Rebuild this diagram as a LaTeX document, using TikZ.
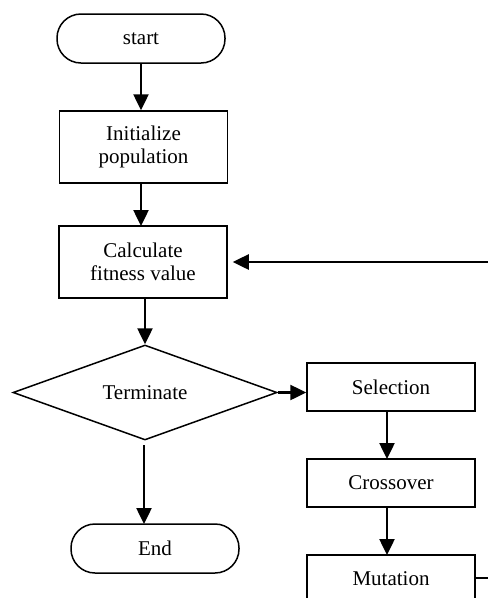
\documentclass[tikz,border=0pt]{standalone}
\usepackage{fontspec}
\setmainfont{Liberation Serif}
\usetikzlibrary{shapes.geometric,arrows.meta}
\begin{document}
\begin{tikzpicture}[x=1pt,y=-1pt,
  txt/.style={font=\fontsize{21}{23}\selectfont},
  box/.style={txt,draw,line width=1.5pt,minimum width=168pt,inner sep=0pt,align=center},
  pill/.style={box,rounded corners=24pt,minimum height=49pt},
  dec/.style={txt,draw,line width=1.5pt,shape=diamond,aspect=2.78,minimum width=264pt,minimum height=95pt,inner sep=0pt},
  arr/.style={line width=2.5pt,-{Triangle[width=15pt,length=16pt]}},
  ln/.style={line width=2.5pt}
]
\useasboundingbox (0,0) rectangle (488,598);
\clip (0,0) rectangle (488,598);

\node[pill] (start) at (141,38.5) {start};
\node[box,minimum height=72pt] (init) at (143.5,147) {Initialize\\population};
\node[box,minimum height=72pt] (calc) at (143,262) {Calculate\\fitness value};
\node[dec] (term) at (145,392.5) {Terminate};
\node[box,minimum height=48pt] (sel) at (391,387) {Selection};
\node[box,minimum height=48pt] (cross) at (391,483) {Crossover};
\node[box,minimum height=48pt] (mut) at (391,579) {Mutation};
\node[pill] (end) at (155,548.5) {End};

\coordinate (fbin) at (488,262);
\coordinate (fbout) at (488,578);

\draw[arr] (start.south) -- (start.south |- init.north);
\draw[arr] (141,183) -- (141,226);
\draw[arr] (calc.south -| term.north) -- (term.north);
\draw[arr] (term.east) -- (term.east -| sel.west);
\draw[arr] (387,411) -- (387,459);
\draw[arr] (387,507) -- (387,555);
\draw[arr] (144,445) -- (144,524);
\draw[arr,shorten >=5pt] (fbin) -- (fbin -| calc.east);
\draw[ln] (mut.east |- fbout) -- (fbout);
\end{tikzpicture}
\end{document}
